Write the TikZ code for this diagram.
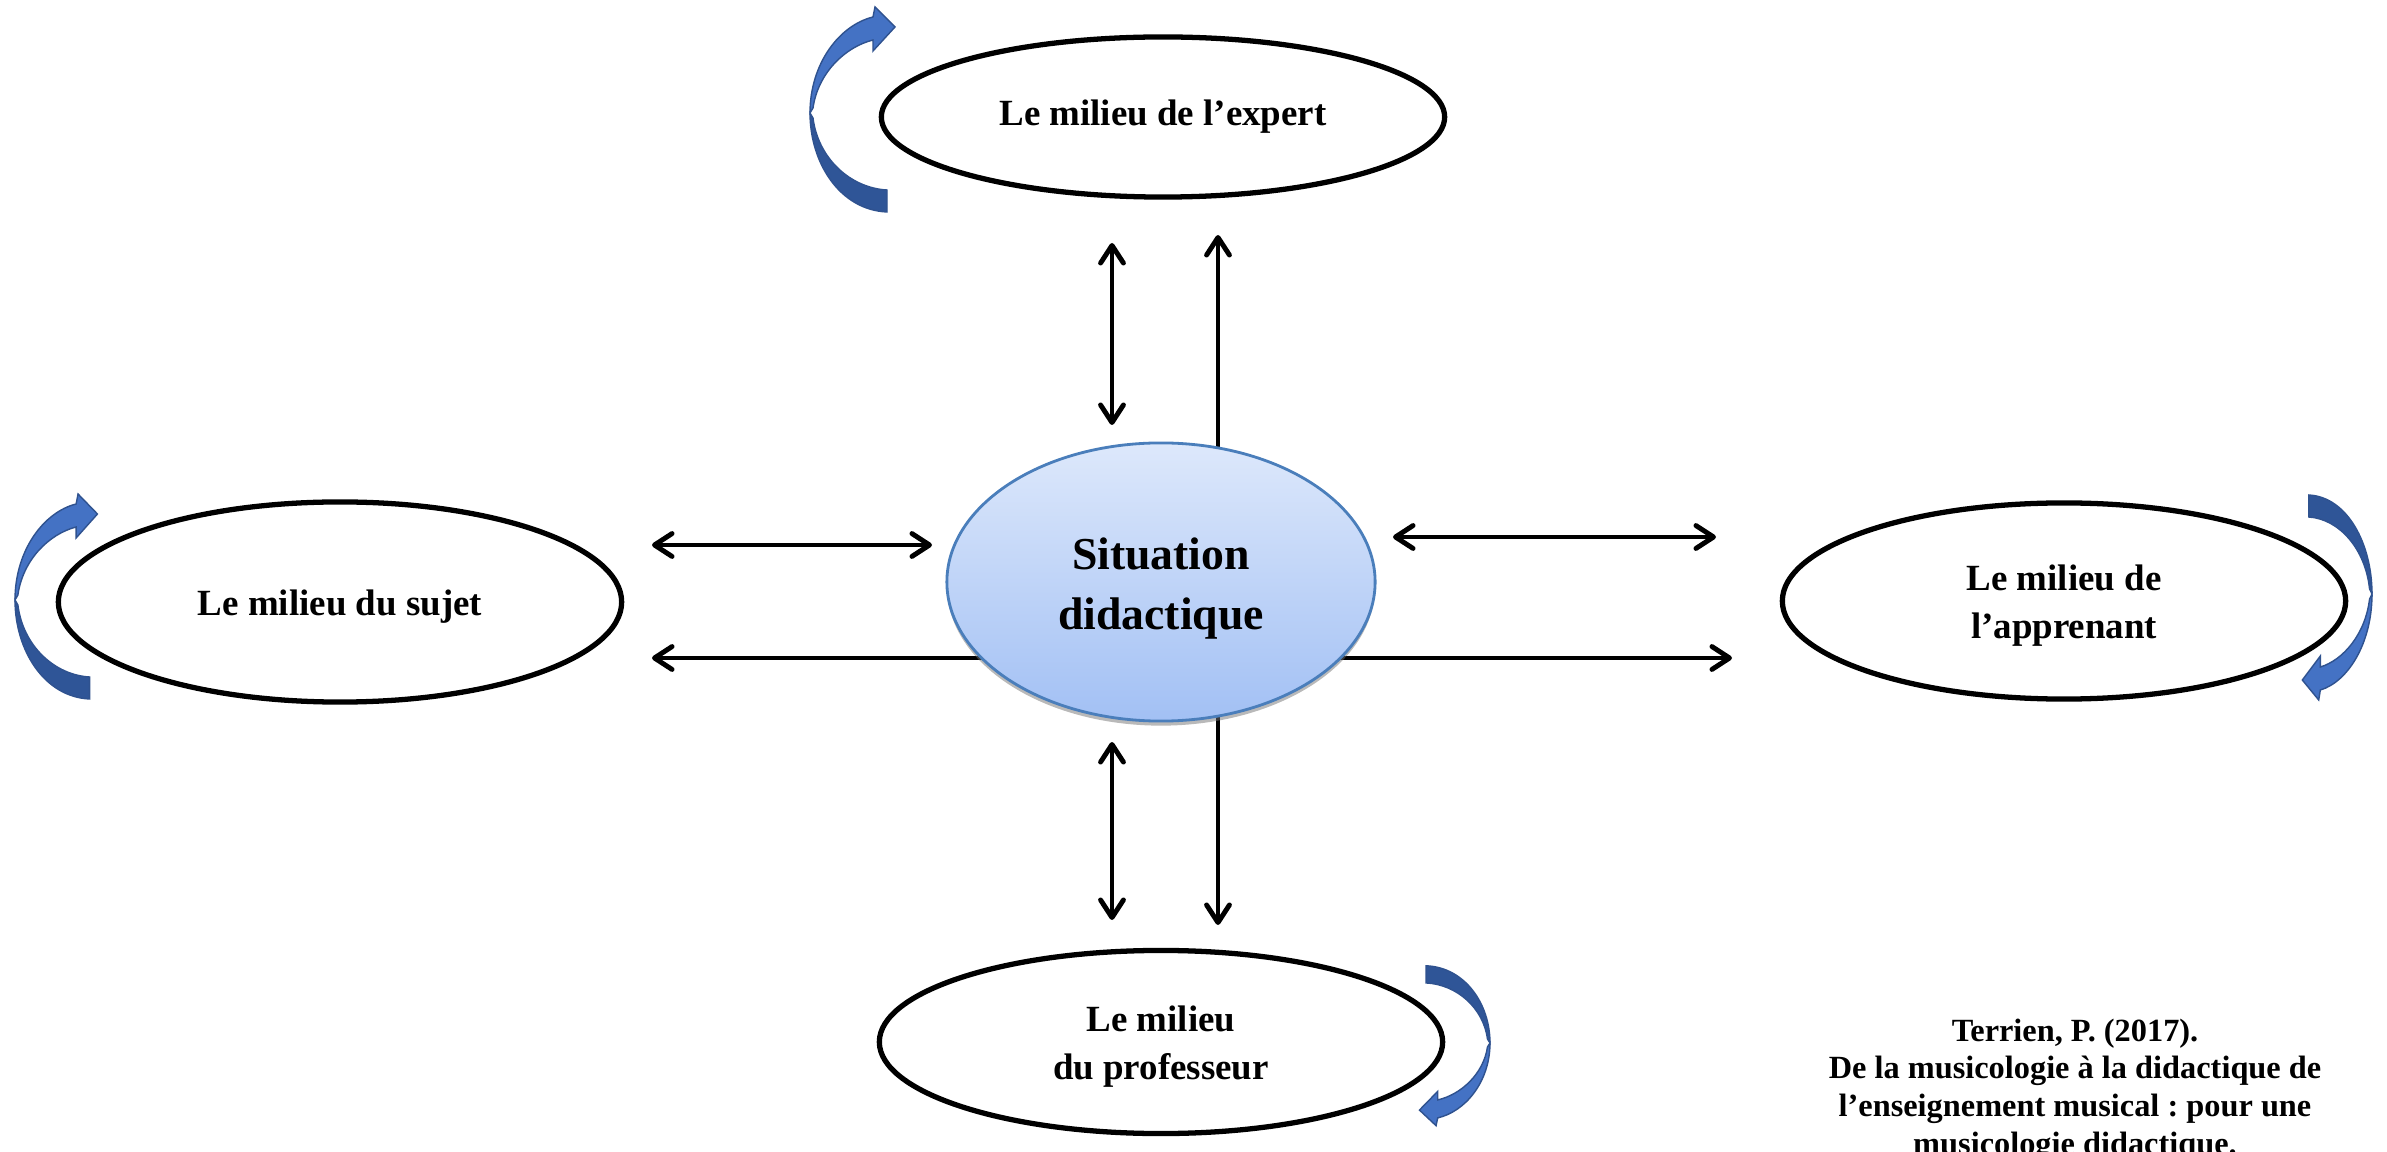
\documentclass[tikz,border=0pt]{standalone}
\usepackage{fontspec}
\setmainfont{Liberation Serif}
\usetikzlibrary{shapes.geometric,arrows.meta,shadows,backgrounds}

\definecolor{sitTop}{HTML}{DDE8FB}
\definecolor{sitBot}{HTML}{A2C0F4}
\definecolor{sitEdge}{HTML}{4A7EBB}
\definecolor{curlLight}{HTML}{4472C4}
\definecolor{curlDark}{HTML}{2F5597}
\definecolor{curlEdge}{HTML}{2F528F}

\newcommand{\milieuStrut}{\rule{0pt}{9.8pt}}

\tikzset{
  curl/.pic={
    % head half
    \fill[curlLight, draw=curlEdge, line width=.4pt] (0,0) .. controls (0,-50) and (30,-88) .. (63,-96)
      -- (65,-106) -- (85,-86) -- (63,-62) -- (63,-73) .. controls (35,-66) and (8,-40) .. (3,-5) -- cycle;
    % tail half
    \fill[curlDark, draw=curlEdge, line width=.4pt] (0,0) .. controls (0,50) and (30,97) .. (77,99)
      -- (77,77) .. controls (40,75) and (8,45) .. (3,5) -- cycle;
  }
}

\begin{document}
\begin{tikzpicture}[x=0.01cm, y=-0.01cm,
    milieu/.style = {draw, ellipse, line width=1.5pt, minimum width=5.63cm, minimum height=2cm,
      align=center, inner sep=0pt, font=\fontsize{10.5}{13.5}\selectfont\bfseries},
    situation/.style = {ellipse, draw=sitEdge, line width=.8pt, top color=sitTop, bottom color=sitBot,
      minimum width=4.28cm, minimum height=2.78cm, align=center, inner sep=0pt,
      font=\fontsize{13}{17}\selectfont\bfseries,
      drop shadow={shadow xshift=0pt, shadow yshift=-1.3pt, fill=black!55, opacity=.5}},
    cite/.style = {align=center, inner sep=0pt, font=\fontsize{9.2}{10.7}\selectfont\bfseries\frenchspacing},
    link/.style = {line width=1.4pt},
    >={Straight Barb[length=5pt,width=6.5pt,round]}]
  \useasboundingbox (0,0) rectangle (2387,1152);

  \node[milieu, minimum height=1.6cm] (expert) at (1163,117) {Le milieu de l’expert};
  \node[milieu] (sujet) at (340,602) {\milieuStrut Le milieu du sujet};
  \node[milieu, minimum height=1.96cm] (apprenant) at (2064,601) {\milieuStrut Le milieu de\\l’apprenant};
  \node[milieu, minimum height=1.83cm] (prof) at (1161,1042) {\milieuStrut Le milieu\\du professeur};
  \node[situation] (sit) at (1161,582) {\rule{0pt}{12.8pt}Situation\\didactique};

  \node[cite, anchor=north] (ref) at (2075,1018) {Terrien, P. (2017).\\De la musicologie à la didactique de\\l’enseignement musical : pour une\\musicologie didactique.};

  % ends of the arrows
  \coordinate (upA) at (1112,243);
  \coordinate (upB) at (1112,425);
  \coordinate (upTip) at (1218,235);
  \coordinate (downA) at (1112,742);
  \coordinate (downB) at (1112,920);
  \coordinate (downTip) at (1218,925);
  \coordinate (leftA) at (652,545);
  \coordinate (leftB) at (932,545);
  \coordinate (leftTip) at (652,658);
  \coordinate (rightA) at (1393,537);
  \coordinate (rightB) at (1716,537);
  \coordinate (rightTip) at (1732,658);

  \draw[link, <->] (upA) -- (upB);
  \draw[link, <->] (downA) -- (downB);
  \draw[link, <->] (leftA) -- (leftB);
  \draw[link, <->] (rightA) -- (rightB);
  \begin{scope}[on background layer]
    \draw[link, ->] (sit.center -| upTip) -- (upTip);
    \draw[link, ->] (sit.center -| downTip) -- (downTip);
    \draw[link, ->] (sit.center |- leftTip) -- (leftTip);
    \draw[link, ->] (sit.center |- rightTip) -- (rightTip);
  \end{scope}

  % turning arrows
  \pic at (810,113) {curl};
  \pic[xscale=.97] at (15,600) {curl};
  \pic[xscale=.82, rotate=180] at (2372,594) {curl};
  \pic[xscale=.83, yscale=.78, rotate=180] at (1490,1043) {curl};
\end{tikzpicture}
\end{document}
